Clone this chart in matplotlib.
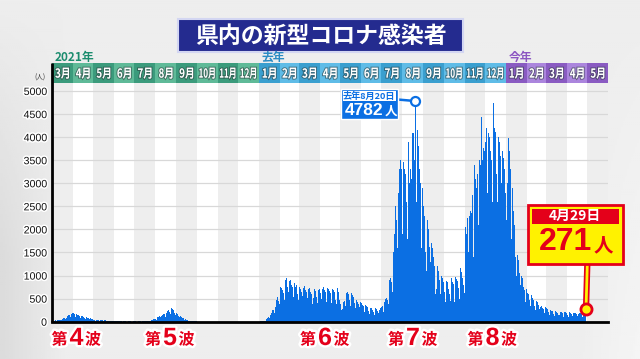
import numpy as np
import pandas as pd
import matplotlib
matplotlib.use("Agg")
import matplotlib.pyplot as plt
import matplotlib.patheffects as pe
import matplotlib.transforms as mtrans
from matplotlib.patches import Rectangle, PathPatch
from matplotlib.textpath import TextPath
from matplotlib.font_manager import FontProperties

plt.rcParams['font.family'] = ['Noto Sans CJK JP', 'DejaVu Sans']

# ---------------- data (daily new cases) ----------------
d2021_03 = [12, 18, 20, 25, 22, 28, 20, 25, 35, 40, 45, 38, 50, 42, 40, 60, 75, 80, 70, 85, 65, 70, 110, 120, 135, 125, 140, 110, 130, 175, 190]
d2021_04 = [200, 185, 170, 150, 110, 160, 175, 150, 145, 130, 120, 85, 125, 130, 115, 110, 100, 85, 60, 95, 100, 90, 80, 75, 60, 45, 70, 65, 55, 50]
d2021_05 = [45, 35, 30, 25, 28, 40, 38, 35, 30, 22, 35, 38, 30, 32, 28, 20, 15, 30, 28, 25, 22, 20, 15, 12, 18, 20, 15, 14, 12, 10, 8]
d2021_06 = [12, 15, 14, 10, 9, 6, 5, 8, 10, 9, 7, 6, 4, 3, 6, 7, 5, 8, 4, 3, 2, 5, 6, 4, 5, 3, 2, 4, 6, 5]
d2021_07 = [5, 6, 4, 3, 2, 7, 8, 6, 5, 9, 4, 3, 10, 12, 8, 15, 14, 10, 8, 18, 22, 25, 20, 18, 15, 30, 40, 45, 50, 55, 60]
d2021_08 = [55, 45, 80, 95, 110, 120, 115, 100, 70, 130, 150, 160, 170, 165, 140, 110, 190, 220, 240, 260, 250, 210, 170, 280, 300, 270, 250, 230, 180, 140, 200]
d2021_09 = [190, 170, 150, 130, 110, 80, 120, 110, 90, 80, 70, 60, 40, 55, 50, 40, 35, 30, 25, 20, 25, 22, 18, 15, 12, 10, 8, 10, 7, 6]
d2021_10 = [5, 4, 3, 2, 2, 3, 2, 1, 2, 1, 0, 1, 2, 1, 1, 0, 1, 0, 0, 1, 2, 1, 0, 0, 0, 1, 0, 1, 0, 0, 0]
d2021_11 = [0, 0, 1, 0, 0, 0, 0, 0, 1, 0, 0, 0, 1, 0, 0, 0, 0, 0, 1, 0, 0, 0, 0, 0, 0, 1, 0, 0, 0, 0]
d2021_12 = [0, 0, 0, 1, 0, 0, 0, 0, 1, 0, 0, 0, 0, 0, 0, 1, 0, 0, 0, 0, 1, 1, 2, 1, 0, 2, 3, 2, 4, 3, 2]
d2022_01 = [3, 2, 5, 8, 12, 15, 20, 25, 18, 15, 40, 60, 80, 95, 110, 85, 70, 150, 190, 230, 250, 260, 210, 180, 320, 400, 470, 540, 520, 450, 380]
d2022_02 = [700, 760, 720, 740, 690, 620, 480, 820, 900, 940, 780, 760, 650, 520, 880, 900, 850, 800, 760, 680, 540, 830, 870, 760, 800, 750, 600, 480]
d2022_03 = [720, 760, 700, 690, 650, 560, 420, 740, 770, 690, 680, 640, 520, 400, 700, 720, 660, 650, 600, 500, 380, 520, 690, 700, 660, 620, 540, 400, 650, 690, 700]
d2022_04 = [640, 620, 500, 380, 700, 760, 720, 690, 650, 560, 420, 740, 750, 700, 660, 620, 520, 400, 700, 720, 680, 650, 600, 480, 380, 690, 720, 650, 520, 480]
d2022_05 = [380, 260, 250, 280, 300, 420, 450, 400, 350, 620, 660, 640, 600, 560, 480, 330, 620, 640, 580, 540, 500, 400, 300, 470, 460, 430, 400, 380, 320, 230, 420]
d2022_06 = [400, 380, 360, 340, 280, 210, 360, 350, 330, 320, 290, 230, 170, 310, 300, 290, 280, 250, 200, 150, 280, 290, 270, 260, 240, 190, 140, 260, 300, 280]
d2022_07 = [310, 330, 300, 220, 420, 480, 500, 520, 540, 470, 380, 820, 900, 950, 980, 870, 640, 700, 1500, 1900, 2300, 2500, 2200, 1600, 1300, 2800, 3300, 3760, 3500, 3300, 2400]
d2022_08 = [1900, 3460, 3600, 3300, 3200, 3100, 2600, 1800, 4260, 3900, 3000, 2700, 3300, 3100, 2200, 4090, 4100, 3800, 3500, 4782, 3900, 2600, 4150, 3800, 3600, 3300, 3000, 2300, 1600, 2900, 2700]
d2022_09 = [2500, 2300, 2000, 1500, 1100, 2380, 2200, 2000, 1800, 1625, 1300, 900, 1700, 1600, 1500, 1400, 1200, 800, 600, 700, 1300, 1200, 1100, 1000, 900, 600, 1000, 1120, 950, 850]
d2022_10 = [800, 650, 420, 900, 880, 850, 780, 700, 600, 400, 450, 950, 900, 870, 820, 700, 430, 970, 950, 930, 880, 820, 720, 500, 1100, 1160, 1080, 1050, 950, 800, 620]
d2022_11 = [1800, 2060, 1900, 1700, 2250, 1500, 1100, 2300, 2400, 2500, 2350, 2745, 2000, 1400, 3400, 3300, 3100, 2900, 4480, 3200, 2100, 3600, 3500, 3400, 3300, 4440, 3500, 2500, 3760, 3700]
d2022_12 = [3900, 3700, 4200, 2800, 2500, 4100, 4000, 3800, 3700, 3500, 2900, 2600, 4730, 4400, 4200, 4120, 4000, 3200, 2600, 4100, 4000, 3900, 3830, 3600, 3000, 2800, 3700, 3550, 3400, 3300, 2800]
d2023_01 = [2600, 2200, 3000, 3980, 3900, 3700, 3300, 2500, 1800, 2900, 2700, 2400, 2100, 1750, 1400, 1000, 1500, 1450, 1330, 1200, 1050, 800, 640, 1000, 950, 840, 760, 690, 560, 420, 700]
d2023_02 = [680, 620, 600, 560, 480, 330, 570, 540, 520, 480, 420, 330, 250, 470, 450, 430, 400, 360, 280, 200, 320, 340, 320, 300, 280, 240, 180, 310]
d2023_03 = [300, 290, 280, 250, 200, 150, 260, 250, 240, 230, 200, 160, 120, 240, 230, 220, 210, 190, 150, 110, 150, 220, 210, 200, 190, 160, 110, 200, 210, 200, 190]
d2023_04 = [180, 150, 100, 190, 200, 190, 180, 170, 130, 90, 180, 190, 180, 170, 160, 120, 85, 170, 180, 190, 180, 170, 140, 100, 200, 210, 230, 190, 271]

month_series = [
    ("2021-03-01", d2021_03), ("2021-04-01", d2021_04), ("2021-05-01", d2021_05),
    ("2021-06-01", d2021_06), ("2021-07-01", d2021_07), ("2021-08-01", d2021_08),
    ("2021-09-01", d2021_09), ("2021-10-01", d2021_10), ("2021-11-01", d2021_11),
    ("2021-12-01", d2021_12), ("2022-01-01", d2022_01), ("2022-02-01", d2022_02),
    ("2022-03-01", d2022_03), ("2022-04-01", d2022_04), ("2022-05-01", d2022_05),
    ("2022-06-01", d2022_06), ("2022-07-01", d2022_07), ("2022-08-01", d2022_08),
    ("2022-09-01", d2022_09), ("2022-10-01", d2022_10), ("2022-11-01", d2022_11),
    ("2022-12-01", d2022_12), ("2023-01-01", d2023_01), ("2023-02-01", d2023_02),
    ("2023-03-01", d2023_03), ("2023-04-01", d2023_04),
]

month_labels = ["3月", "4月", "5月", "6月", "7月", "8月", "9月", "10月", "11月", "12月",
                "1月", "2月", "3月", "4月", "5月", "6月", "7月", "8月", "9月", "10月", "11月", "12月",
                "1月", "2月", "3月", "4月", "5月"]
year_labels = ["2021年", "去年", "今年"]
year_first_month = [0, 10, 22]
y_ticks = [0, 500, 1000, 1500, 2000, 2500, 3000, 3500, 4000, 4500, 5000]

peak_date, peak_value, peak_text = "2022-08-20", 4782, "去年8月20日"
last_date, last_value, last_text = "2023-04-29", 271, "4月29日"
wave_numbers = ["4", "5", "6", "7", "8"]

# ---------------- layout ----------------
W, H = 640, 359
AX_L, AX_R, AX_T, AX_B = 51.7, 608.0, 83.0, 321.7
HDR_T = 63.0
PX_PER_CASE = 0.04614
BASE = pd.Timestamp("2021-03-01")
END = pd.Timestamp("2023-06-01")
n_days = (END - BASE).days

BLUE = "#0b6fe3"
RED = "#e4001a"
YELLOW = "#fff200"

days, vals = [], []
for start, arr in month_series:
    s = (pd.Timestamp(start) - BASE).days
    days.extend(range(s, s + len(arr)))
    vals.extend(arr)
days = np.array(days)
vals = np.array(vals)

fig = plt.figure(figsize=(6.4, 3.59), dpi=100)

# background
bg = fig.add_axes([0, 0, 1, 1], zorder=-10)
gx = np.linspace(0, 1, 320)
gy = np.linspace(0, 1, 180)
GX, GY = np.meshgrid(gx, gy)
shade = 0.93 - 0.07 * np.clip(1 - GX / 0.10, 0, 1) * np.clip(GY * 1.4, 0, 1) + 0.03 * np.clip((GX - 0.9) / 0.1, 0, 1) * GY
bg.imshow(shade, cmap="gray", vmin=0, vmax=1, extent=[0, 1, 0, 1], aspect="auto")
bg.axis("off")

# main axes
ax = fig.add_axes([AX_L / W, 1 - AX_B / H, (AX_R - AX_L) / W, (AX_B - AX_T) / H], zorder=1)
ax.set_xlim(0, n_days)
ax.set_ylim(0, (AX_B - AX_T) / PX_PER_CASE)
ax.set_facecolor("white")

month_starts = pd.date_range(BASE, END, freq="MS")
mx = [(d - BASE).days for d in month_starts]
for i in range(len(month_labels)):
    if i % 2 == 0:
        ax.axvspan(mx[i], mx[i + 1], color="#eeeeee", lw=0, zorder=0)
for t in y_ticks[1:]:
    ax.axhline(t, color="#d8d8d8", lw=0.9, zorder=1)

ax.bar(days + 0.5, vals, width=1.0, color=BLUE, lw=0, zorder=2)

for s in ["top", "right", "left"]:
    ax.spines[s].set_visible(False)
ax.spines["bottom"].set_linewidth(2)
ax.spines["bottom"].set_color("black")
ax.set_xticks([])
ax.set_yticks(y_ticks)
ax.set_yticklabels([str(t) for t in y_ticks], fontfamily=["Liberation Sans"], fontsize=7.6, color="#111111")
ax.tick_params(axis="y", length=0, pad=3.5)
for lbl in ax.get_yticklabels():
    lbl.set_path_effects([pe.withStroke(linewidth=2.2, foreground="white")])

# header axes
hx = fig.add_axes([AX_L / W, 1 - AX_T / H, (AX_R - AX_L) / W, (AX_T - HDR_T) / H], zorder=1)
hx.set_xlim(0, n_days)
hx.set_ylim(0, 1)
hx.axis("off")
palettes = [("#3b9b7c", "#5fba98"), ("#3a9fcf", "#5fbce7"), ("#8a5bc2", "#ab85dd")]

def year_group(i):
    return 0 if i < 10 else (1 if i < 22 else 2)

for i, lab in enumerate(month_labels):
    dark, light = palettes[year_group(i)]
    hx.add_patch(Rectangle((mx[i], 0), mx[i + 1] - mx[i], 1, facecolor=dark if i % 2 == 0 else light, lw=0))

# overlay in pixel coordinates
ov = fig.add_axes([0, 0, 1, 1], zorder=10)
ov.set_xlim(0, W)
ov.set_ylim(H, 0)
ov.axis("off")

def day_to_px(d):
    return AX_L + d / n_days * (AX_R - AX_L)

fp_cjk_b = FontProperties(family="Noto Sans CJK JP", weight="bold")

def ptext(x, y, s, size_px, fp, color, sx=1.0, max_w=None, effects=None, zorder=20):
    tp = TextPath((0, 0), s, size=size_px, prop=fp)
    ext = tp.get_extents()
    if max_w is not None and ext.width * sx > max_w:
        sx = max_w / ext.width
    cx = (ext.x0 + ext.x1) / 2
    cy = (ext.y0 + ext.y1) / 2
    tr = mtrans.Affine2D().translate(-cx, -cy).scale(sx, -1).translate(x, y) + ov.transData
    p = PathPatch(tp, transform=tr, facecolor=color, edgecolor="none", zorder=zorder)
    if effects:
        p.set_path_effects(effects)
    ov.add_patch(p)

for i, lab in enumerate(month_labels):
    cxp = day_to_px((mx[i] + mx[i + 1]) / 2)
    ptext(cxp, 73.2, lab, 12.5, fp_cjk_b, "white", sx=0.78, max_w=15.5,
          effects=[pe.Stroke(linewidth=1.4, foreground="#2a3a3a", alpha=0.55), pe.Normal()])

# left axis line (through header)
ov.plot([AX_L, AX_L], [HDR_T, AX_B], color="black", lw=2, solid_capstyle="butt")

# year labels
year_colors = ["#1b8c6e", "#2a8cc4", "#8c55c2"]
for lab, mi, col in zip(year_labels, year_first_month, year_colors):
    ov.text(day_to_px(mx[mi]) + 3, 57, lab, color=col, fontsize=8.5, fontweight="bold", ha="left", va="center")

ov.text(40, 78, "(人)", fontsize=4.8, color="#333333", ha="center", va="center")

# title
ov.add_patch(Rectangle((178, 19), 285, 33, facecolor="#242b8f", edgecolor="#d3d6f2", lw=1.5))
ov.text(320.5, 36, "県内の新型コロナ感染者", color="white", fontsize=16.5, fontweight="bold", ha="center", va="center")

# wave labels
wave_digit_x = [76.5, 170, 325, 413, 492.5]
wave_fx = [pe.withStroke(linewidth=3.5, foreground="white")]
for num, x in zip(wave_numbers, wave_digit_x):
    ov.text(x - 17, 339.5, "第", color=RED, fontsize=11.5, fontweight="bold", ha="center", va="center", path_effects=wave_fx)
    ov.text(x, 338, num, color=RED, fontsize=18, fontweight="bold", family=["Liberation Sans"], ha="center", va="center", path_effects=wave_fx)
    ov.text(x + 16.5, 339.5, "波", color=RED, fontsize=11.5, fontweight="bold", ha="center", va="center", path_effects=wave_fx)

# peak annotation (blue)
ov.add_patch(Rectangle((341, 88.5), 56.5, 30, facecolor=BLUE, edgecolor="white", lw=1))
ov.add_patch(Rectangle((343, 90.5), 52.5, 10.5, facecolor="white", lw=0))
ov.text(369.2, 95.9, peak_text, color=BLUE, fontsize=6.6, fontweight="bold", ha="center", va="center")
ov.text(383.5, 110.5, f"{peak_value}", color="white", fontsize=12.5, fontweight="bold", family=["Liberation Sans"], ha="right", va="center")
ov.text(384.5, 111.5, "人", color="white", fontsize=9, fontweight="bold", ha="left", va="center")

to_data = ax.transData.inverted()
peak_x = (pd.Timestamp(peak_date) - BASE).days + 0.5
bx, by = to_data.transform(ov.transData.transform((397.5, 99.5)))
ax.plot([bx, peak_x], [by, peak_value], color=BLUE, lw=1.8, clip_on=False, zorder=5)
ax.plot([peak_x], [peak_value], marker="o", ms=6.5, mfc="white", mec=BLUE, mew=1.6, clip_on=False, zorder=6)

# last value annotation (yellow)
ov.add_patch(Rectangle((527.5, 204.5), 95.5, 59, facecolor=YELLOW, edgecolor=RED, lw=2))
ov.add_patch(Rectangle((531.5, 208.5), 87, 15, facecolor=RED, lw=0))
ov.text(575, 216.3, last_text, color="white", fontsize=10, fontweight="bold", ha="center", va="center")
ov.text(592, 242, f"{last_value}", color=RED, fontsize=23, fontweight="bold", family=["Liberation Sans"], ha="right", va="center")
ov.text(593.5, 246, "人", color=RED, fontsize=14, fontweight="bold", ha="left", va="center")

last_x = (pd.Timestamp(last_date) - BASE).days + 0.5
sx_, sy_ = to_data.transform(ov.transData.transform((587.3, 264.5)))
ax.plot([sx_, last_x], [sy_, last_value], color=YELLOW, lw=2, clip_on=False, zorder=5,
        solid_capstyle="butt", path_effects=[pe.Stroke(linewidth=4.5, foreground=RED), pe.Normal()])
ax.plot([last_x], [last_value], marker="o", ms=8, mfc=YELLOW, mec=RED, mew=2, clip_on=False, zorder=6)

fig.savefig("out.png", dpi=100)
